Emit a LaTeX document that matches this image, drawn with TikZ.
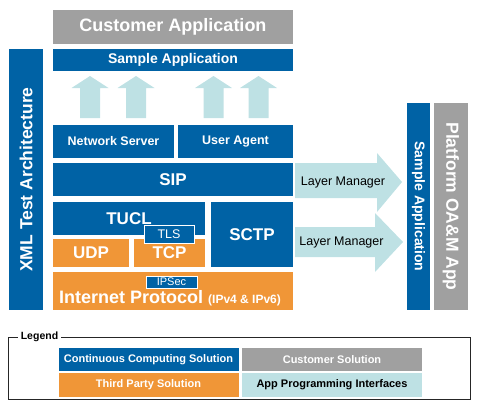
\documentclass[tikz,border=0pt]{standalone}
\usepackage{fontspec}
\setmainfont{Liberation Sans}
\usetikzlibrary{positioning}
\definecolor{ccblue}{RGB}{0,98,165}
\definecolor{custgray}{RGB}{160,160,160}
\definecolor{tporange}{RGB}{240,150,55}
\definecolor{apicyan}{RGB}{190,225,228}
\newcommand{\fsz}[1]{\fontsize{#1}{#1}\selectfont}

\begin{document}
\begin{tikzpicture}[x=1pt,y=-1pt,
  box/.style={inner sep=0pt,text=white,font=\bfseries,align=center},
  ccbox/.style={box,fill=ccblue},
  tpbox/.style={box,fill=tporange},
  custbox/.style={box,fill=custgray},
  tag/.style={fill=ccblue,draw=white,line width=1pt,text=white,inner sep=0pt},
  apiarrow/.style={fill=apicyan},
  lmtext/.style={inner sep=0pt,text=black,font=\fsz{12.5}},
  legbox/.style={box,minimum width=180pt,minimum height=23pt,font=\bfseries\fsz{11}}
]
\useasboundingbox (0,0) rectangle (479,412);

% application layers
\node[custbox, minimum width=240pt, minimum height=34pt, font=\bfseries\fsz{18}] (cust) at (173,27) {Customer Application};
\node[ccbox, minimum width=240pt, minimum height=22pt, font=\bfseries\fsz{14}] (sampapp) at (173,60) {Sample Application};
\node[ccbox, rotate=90, minimum width=261pt, minimum height=34pt, font=\bfseries\fsz{17.5}] (xml) at (26,179.5) {XML Test Architecture};

% API arrows
\foreach \cx in {90,136,213.5,258.5}
  \fill[apiarrow] (\cx-10,118) -- (\cx-10,88) -- (\cx-18.5,88) -- (\cx,76)
    -- (\cx+18.5,88) -- (\cx+10,88) -- (\cx+10,118) -- cycle;

% protocol stack
\node[ccbox, minimum width=121pt, minimum height=33pt, font=\bfseries\fsz{12.5}] (netsrv) at (113.5,141.5) {Network Server};
\node[ccbox, minimum width=115pt, minimum height=33pt, font=\bfseries\fsz{12.5}] (uagent) at (235.5,141.5) {User Agent};
\node[ccbox, minimum width=240pt, minimum height=33pt, font=\bfseries\fsz{17}] (sip) at (173,179.5) {SIP};
\node[ccbox, minimum width=152pt, minimum height=33pt, font=\bfseries\fsz{17}] (tucl) at (129,218.5) {TUCL};
\node[ccbox, minimum width=82pt, minimum height=65pt, font=\bfseries\fsz{17}] (sctp) at (252,234.5) {SCTP};
\node[tpbox, minimum width=76pt, minimum height=28pt, font=\bfseries\fsz{17}] (udp) at (91,253) {UDP};
\node[tpbox, minimum width=71pt, minimum height=28pt, font=\bfseries\fsz{17}] (tcp) at (169.5,253) {TCP};
\node[tag, minimum width=50pt, minimum height=18pt, font=\fsz{12.5}] (tls) at (169,234) {TLS};
\node[tpbox, minimum width=240pt, minimum height=38pt] (ip) at (173,291) {};
\node[box, anchor=west, font=\bfseries\fsz{18}] (iptext) at (59,298) {Internet Protocol {\fsz{12}(IPv4 \& IPv6)}};
\node[tag, minimum width=51pt, minimum height=12pt, font=\fsz{11}] (ipsec) at (171.5,282) {IPSec};

% layer manager arrows
\fill[apiarrow] (295,163) -- (377,163) -- (377,153) -- (402,182) -- (377,212)
  -- (377,198) -- (295,198) -- cycle;
\fill[apiarrow] (295,227) -- (375,227) -- (375,213) -- (403,242) -- (375,272)
  -- (375,257) -- (295,257) -- cycle;
\node[lmtext] (lm1) at (343,182) {Layer Manager};
\node[lmtext] (lm2) at (341.5,242) {Layer Manager};

% platform columns
\node[ccbox, rotate=-90, minimum width=207pt, minimum height=23pt, font=\bfseries\fsz{14}] (vsamp) at (418.5,206.5) {Sample Application};
\node[custbox, rotate=-90, minimum width=207pt, minimum height=34pt, font=\bfseries\fsz{17.5}] (platf) at (451,206.5) {Platform OA\&M App};

% legend
\node[inner sep=3pt, font=\bfseries\fsz{10.5}] (legtitle) at (39.5,337) {Legend};
\draw[line width=0.9pt, black!85] (legtitle.west) -- (8,337) -- (8,399) -- (470,399) -- (470,337) -- (legtitle.east);
\node[legbox, fill=ccblue] (legcc) at (148.5,359.5) {Continuous Computing Solution};
\node[legbox, fill=custgray] (legcust) at (332,359.5) {Customer Solution};
\node[legbox, fill=tporange, minimum height=24pt] (legtp) at (148.5,385) {Third Party Solution};
\node[legbox, fill=apicyan, text=black, minimum height=24pt] (legapi) at (332,385) {App Programming Interfaces};
\end{tikzpicture}
\end{document}
